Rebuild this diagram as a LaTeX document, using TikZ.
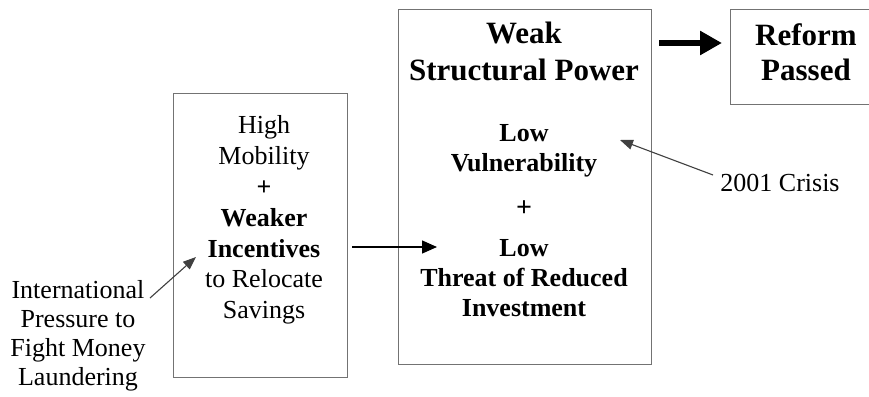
\documentclass[tikz,border=0pt]{standalone}
\usepackage{fontspec}
\setmainfont{Liberation Serif}
\usetikzlibrary{arrows.meta}
\begin{document}
\begin{tikzpicture}[x=1pt,y=-1pt,
  box/.style={draw=black!55, line width=1.3pt, anchor=north west, inner sep=0pt},
  txt/.style={align=center, inner sep=0pt, font=\fontsize{26}{30}\selectfont},
  bigtxt/.style={align=center, inner sep=0pt, font=\fontsize{31}{37}\selectfont\bfseries},
  thin/.style={draw=black!75, line width=1.1pt, -{Triangle[length=13pt,width=10pt]}},
  mid/.style={draw=black, line width=1.4pt, -{Triangle[length=15pt,width=13pt]}},
  thick/.style={draw=black, line width=6pt, -{Triangle[length=22pt,width=23pt]}}]
\useasboundingbox (0,0) rectangle (869,396);
\fill[white] (0,0) rectangle (869,396);
% boxes
\node[box, minimum width=174pt, minimum height=284pt] (lbox) at (173,93) {};
\node[box, minimum width=253pt, minimum height=355pt] (mbox) at (398,9) {};
\node[box, minimum width=155pt, minimum height=95pt] (rbox) at (730,9) {};
% texts
\node[bigtxt] (title) at (524,51.5) {Weak\\Structural Power};
\node[txt, font=\fontsize{26}{30}\selectfont\bfseries] (vuln) at (524,151) {Low\\Vulnerability};
\node[txt, font=\fontsize{28}{30}\selectfont\bfseries] (plus2) at (524,209) {+};
\node[txt, font=\fontsize{26}{30}\selectfont\bfseries] (threat) at (524,278) {Low\\Threat of Reduced\\Investment};
\node[bigtxt, font=\fontsize{31}{35}\selectfont\bfseries] (reform) at (806,52.5) {Reform\\Passed};
\node[txt, font=\fontsize{26}{30.8}\selectfont] (ltext) at (264,220)
  {High\\Mobility\\\textbf{+}\\\textbf{Weaker}\\\textbf{Incentives}\\to Relocate\\Savings};
\node[txt, font=\fontsize{26}{29}\selectfont] (intl) at (78,335.5)
  {International\\Pressure to\\Fight Money\\Laundering};
\node[txt] (crisis) at (780,183) {2001 Crisis};
% connectors
\coordinate (m1) at (352,247);
\coordinate (m2) at (437,247);
\draw[mid] (m1) -- (m2);
\coordinate (t1) at (659,43);
\coordinate (t2) at (722,43);
\draw[thick] (t1) -- (t2);
\coordinate (i1) at (150,298);
\coordinate (i2) at (196,257);
\draw[thin] (i1) -- (i2);
\coordinate (c1) at (713,175);
\coordinate (c2) at (620,140);
\draw[thin] (c1) -- (c2);
\end{tikzpicture}
\end{document}
